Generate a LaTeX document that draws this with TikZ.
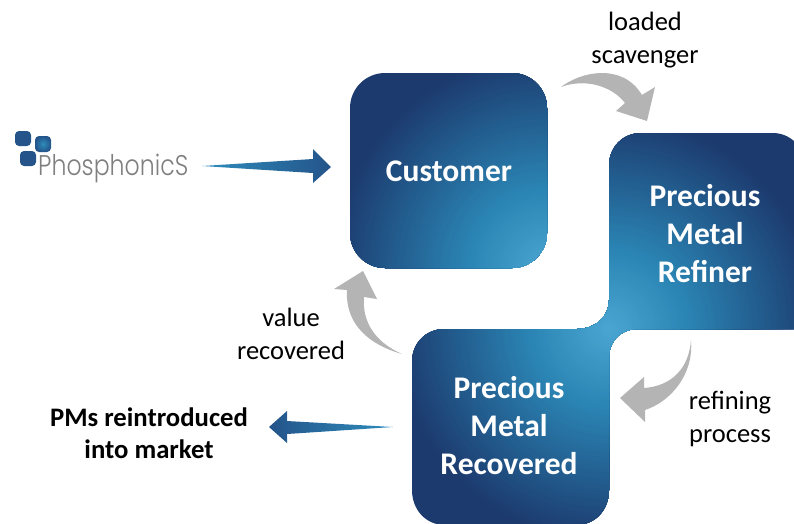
\documentclass[tikz,border=0pt]{standalone}
\usepackage{fontspec}
\setmainfont{Carlito}
\newfontfamily\logofont[UprightFont=* Light]{Poppins}
\definecolor{glow}{HTML}{4CA6D2}
\definecolor{midb}{HTML}{2A85B4}
\definecolor{deepb}{HTML}{1C3A6E}
\definecolor{arrowgray}{HTML}{B4B4B4}
\definecolor{arrowhead}{HTML}{24548A}
\definecolor{arrowtail}{HTML}{2E8DBC}
\definecolor{logogray}{HTML}{7F7F7F}
\tikzset{
  x=1pt,y=-1pt,
  grayarrow/.style={fill=arrowgray,draw=none},
  boxlabel/.style={text=white,font=\fontsize{31.5}{38}\selectfont\bfseries,align=center},
  plainlabel/.style={text=black,font=\fontsize{26.5}{32.5}\selectfont,align=center},
  boldlabel/.style={text=black,font=\fontsize{26.7}{32}\selectfont\bfseries,align=center},
}
% Concentric discs, outermost first: colour runs glow -> midb -> deepb with distance
\newcommand{\glowdiscs}[1]{%
  \fill[deepb] (-10,-10) rectangle (810,540);
  \foreach \r in {215,212,...,2}{%
    \ifnum\r>80
      \pgfmathsetmacro{\mixa}{(215-\r)/1.35}%
      \fill[midb!\mixa!deepb] (#1) circle (\r);
    \else
      \pgfmathsetmacro{\mixb}{(80-\r)/0.8}%
      \fill[glow!\mixb!midb] (#1) circle (\r);
    \fi
  }%
}
\begin{document}
\begin{tikzpicture}
\useasboundingbox (0,0) rectangle (794,523);
\clip (0,0) rectangle (794,523);
\coordinate (cglow) at (547,268);
\coordinate (mglow) at (609,329);
% Customer box
\begin{scope}[rounded corners=35pt]
  \clip (350,73) rectangle (547,268);
  \begin{scope}[sharp corners]
    \glowdiscs{cglow}
  \end{scope}
\end{scope}
% Refiner + Recovered merged shape
\begin{scope}
  \clip
    (641,133) -- (773,133) .. controls (790,133) and (805,147) .. (805,166) -- (805,329)
    -- (637,329) .. controls (621,329) and (609,341) .. (609,357)
    -- (609,490) .. controls (609,510) and (595,525) .. (576,525)
    -- (445,525) .. controls (426,525) and (412,510) .. (412,490)
    -- (412,362) .. controls (412,343) and (426,329) .. (445,329)
    -- (577,329) .. controls (595,329) and (609,317) .. (609,300)
    -- (609,166) .. controls (609,147) and (623,133) .. (641,133) -- cycle;
  \glowdiscs{mglow}
\end{scope}
% Box labels
\node[boxlabel] (customer) at (449,171) {Customer};
\node[boxlabel] (refiner) at (705,234) {Precious\\Metal\\Refiner};
\node[boxlabel] (recovered) at (509,426) {Precious\\Metal\\Recovered};
% Gray arrows
\fill[grayarrow] (561,87) .. controls (580,72) and (622,62) .. (642,95)
  -- (655,87) -- (647,121) -- (616,111) -- (625,103)
  .. controls (612,86) and (585,78) .. (561,87) -- cycle;
\fill[grayarrow] (691,340) .. controls (694,375) and (670,402) .. (645,410)
  -- (645,422) -- (620,398) -- (644,377) -- (644,388)
  .. controls (672,386) and (689,368) .. (691,340) -- cycle;
\fill[grayarrow] (402,354) .. controls (370,345) and (345,325) .. (347,290)
  -- (334,289) -- (363,271) -- (377,299) -- (364,297)
  .. controls (362,322) and (375,342) .. (402,354) -- cycle;
% Logo
\begin{scope}[rounded corners=4pt]
  \fill[arrowhead] (15,131) rectangle (31,146);
  \shade[inner color=arrowtail,outer color=arrowhead] (35,136) rectangle (51,152);
  \fill[arrowhead] (20,151) rectangle (36,166);
\end{scope}
\node[anchor=base west,inner sep=0pt,text=logogray,font=\logofont\fontsize{28.5}{30}\selectfont] (logo) at (38,175) {\scalebox{0.83}[1]{PhosphonicS}};
% Blue arrows
\shade[left color=arrowtail,right color=arrowhead,draw=none]
  (202,166) -- (313,159) -- (313,149) -- (331,167) -- (313,183) -- (313,173) -- cycle;
\shade[left color=arrowhead,right color=arrowtail,draw=none]
  (393,427) -- (287,421) -- (287,411) -- (269,427) -- (287,443) -- (287,434) -- cycle;
% Plain labels
\node[plainlabel] (scav) at (645,40) {loaded\\scavenger};
\node[plainlabel] (value) at (291,334) {value\\recovered};
\node[plainlabel] (refproc) at (730,419) {refining\\process};
\node[boldlabel] (pms) at (149,433) {PMs reintroduced\\into market};
\end{tikzpicture}
\end{document}
